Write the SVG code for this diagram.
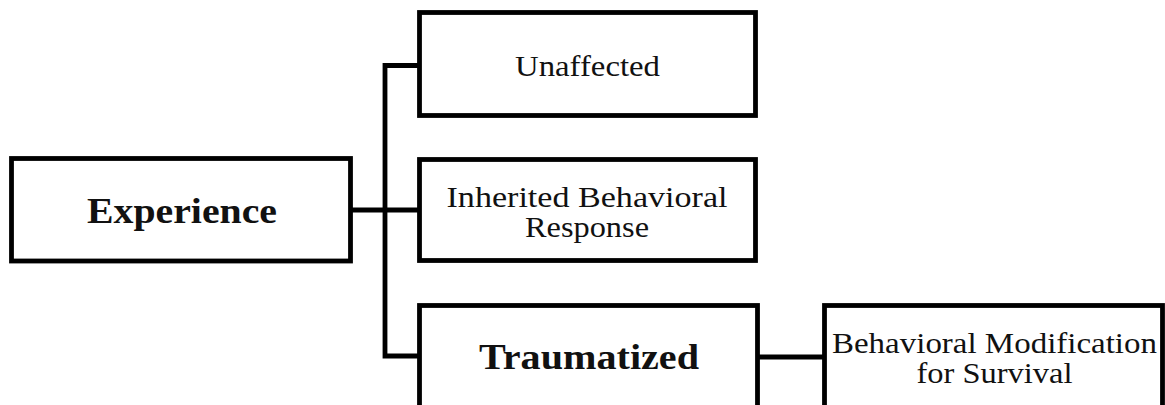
<svg xmlns="http://www.w3.org/2000/svg" width="1165" height="405" viewBox="0 0 1165 405">
  <style>
    .box { fill: #ffffff; stroke: #000000; stroke-width: 4.8; }
    .link { fill: none; stroke: #000000; stroke-width: 4.8; stroke-linejoin: miter; }
    .lbl { font-family: "Liberation Serif", "DejaVu Serif", serif; font-size: 29px; fill: #111111; text-anchor: middle; }
    .hd { font-family: "Liberation Serif", "DejaVu Serif", serif; font-size: 35px; font-weight: bold; fill: #111111; text-anchor: middle; }
  </style>
  <rect width="1165" height="405" fill="#ffffff"/>

  <!-- connectors -->
  <g id="connectors">
    <path class="link" d="M 351 210 H 385"/>
    <path class="link" d="M 420 65.5 H 385 V 356 H 420"/>
    <path class="link" d="M 385 210 H 420"/>
    <path class="link" d="M 758 357 H 825"/>
  </g>

  <g id="experience">
    <rect class="box" x="11.5" y="158.5" width="339" height="102.5"/>
    <text class="hd" x="182" y="223" textLength="190" lengthAdjust="spacingAndGlyphs">Experience</text>
  </g>

  <g id="unaffected">
    <rect class="box" x="419.5" y="12.5" width="336" height="103"/>
    <text class="lbl" x="587.5" y="76" textLength="145" lengthAdjust="spacingAndGlyphs">Unaffected</text>
  </g>

  <g id="inherited">
    <rect class="box" x="419.5" y="159.5" width="336" height="101"/>
    <text class="lbl" x="587" y="207" textLength="281" lengthAdjust="spacingAndGlyphs">Inherited Behavioral</text>
    <text class="lbl" x="587" y="237" textLength="124" lengthAdjust="spacingAndGlyphs">Response</text>
  </g>

  <g id="traumatized">
    <rect class="box" x="419.5" y="305.5" width="338" height="110"/>
    <text class="hd" x="589" y="369" textLength="220" lengthAdjust="spacingAndGlyphs">Traumatized</text>
  </g>

  <g id="behavioral-modification">
    <rect class="box" x="824.5" y="305.5" width="338" height="110"/>
    <text class="lbl" x="994.5" y="353" textLength="325" lengthAdjust="spacingAndGlyphs">Behavioral Modification</text>
    <text class="lbl" x="994.5" y="383" textLength="156" lengthAdjust="spacingAndGlyphs">for Survival</text>
  </g>
</svg>
